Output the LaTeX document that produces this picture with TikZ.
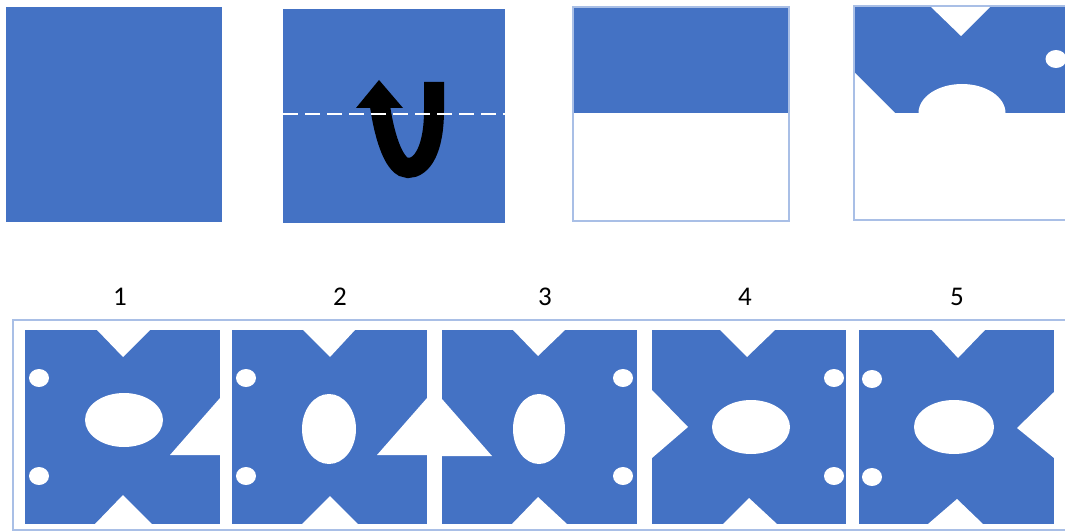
\documentclass[tikz,border=0pt]{standalone}
\usepackage{fontspec}
\setmainfont{Carlito}
\definecolor{mblue}{HTML}{4472C4}
\definecolor{lblue}{HTML}{A9BFE6}
\tikzset{
  panel/.style={fill=mblue},
  hole/.style={fill=white},
  outlinebox/.style={draw=lblue, line width=1.2pt},
  numlabel/.style={font=\fontsize{27}{29}\selectfont, inner sep=0pt}
}
\begin{document}
\begin{tikzpicture}[x=1pt,y=-1pt]
\useasboundingbox (0,0) rectangle (1065,532);
\clip (0,0) rectangle (1065,532);
% top row
\fill[panel] (6,7) rectangle (222,222);
\fill[panel] (283,9) rectangle (505,223);
% U-turn arrow
\draw[line width=20pt, black] (434,82) -- (434,110) .. controls (434,150) and (422,168) .. (408,168) .. controls (395,168) and (385,140) .. (380,106);
\fill[black] (356,108) -- (379,80) -- (403,108) -- cycle;
\draw[white, line width=2pt, dash pattern=on 15pt off 7pt] (283,114) -- (505,114);
% square 3
\fill[panel] (573,7) rectangle (789,113);
\draw[outlinebox] (573,7) rectangle (789,221);
% square 4
\fill[panel] (854,6) rectangle (1080,113);
\fill[hole] (930,6) -- (991,6) -- (961,36) -- cycle;
\fill[hole] (1056,59) ellipse [x radius=10.5, y radius=9];
\fill[hole] (854,72) -- (895,113) -- (854,113) -- cycle;
\fill[hole] (918.5,113) arc[start angle=180, end angle=0, x radius=43.5, y radius=-29] -- cycle;
\draw[outlinebox] (854,6) rectangle (1080,220);
% labels
\node[numlabel] (n1) at (120,297) {1};
\node[numlabel] (n2) at (340,297) {2};
\node[numlabel] (n3) at (545,297) {3};
\node[numlabel] (n4) at (745,297) {4};
\node[numlabel] (n5) at (957,297) {5};
% bottom frame
\draw[outlinebox] (13,320) rectangle (1080,530);
% panel 1
\fill[panel] (25,330) rectangle (220,524);
\fill[hole] (97,330) -- (150,330) -- (123,357) -- cycle;
\fill[hole] (95,524) -- (152,524) -- (123,495) -- cycle;
\fill[hole] (39,378) ellipse [x radius=10, y radius=9];
\fill[hole] (39,476) ellipse [x radius=10, y radius=9];
\fill[hole] (124,420) ellipse [x radius=39, y radius=27];
\fill[hole] (220,398) -- (220,455) -- (170,455) -- cycle;
% panel 2
\fill[panel] (232,330) rectangle (427,524);
\fill[hole] (303,330) -- (355,330) -- (330,357) -- cycle;
\fill[hole] (302,524) -- (358,524) -- (330,496) -- cycle;
\fill[hole] (246,378) ellipse [x radius=10, y radius=9];
\fill[hole] (246,476) ellipse [x radius=10, y radius=9];
\fill[hole] (329,429) ellipse [x radius=27, y radius=35];
\fill[hole] (427,398) -- (427,455) -- (377,455) -- cycle;
% panel 3
\fill[panel] (442,330) rectangle (637,524);
\fill[hole] (513,330) -- (565,330) -- (538,356) -- cycle;
\fill[hole] (512,524) -- (567,524) -- (538,497) -- cycle;
\fill[hole] (623,378) ellipse [x radius=10, y radius=9];
\fill[hole] (623,476) ellipse [x radius=10, y radius=9];
\fill[hole] (539,429) ellipse [x radius=26, y radius=35];
\fill[hole] (442,399) -- (442,456) -- (492,456) -- cycle;
% panel 4
\fill[panel] (652,330) rectangle (846,524);
\fill[hole] (720,330) -- (775,330) -- (747,357) -- cycle;
\fill[hole] (723,524) -- (777,524) -- (749,498) -- cycle;
\fill[hole] (834,378) ellipse [x radius=10, y radius=9];
\fill[hole] (834,476) ellipse [x radius=10, y radius=9];
\fill[hole] (751,427) ellipse [x radius=39, y radius=27];
\fill[hole] (652,390) -- (688,427) -- (652,458) -- cycle;
% panel 5
\fill[panel] (859,330) rectangle (1054,524);
\fill[hole] (932,330) -- (985,330) -- (958,358) -- cycle;
\fill[hole] (928,524) -- (983,524) -- (957,499) -- cycle;
\fill[hole] (872,379) ellipse [x radius=10, y radius=9];
\fill[hole] (872,477) ellipse [x radius=10, y radius=9];
\fill[hole] (954,427) ellipse [x radius=40, y radius=27];
\fill[hole] (1054,392) -- (1017,428) -- (1054,458) -- cycle;
\end{tikzpicture}
\end{document}
